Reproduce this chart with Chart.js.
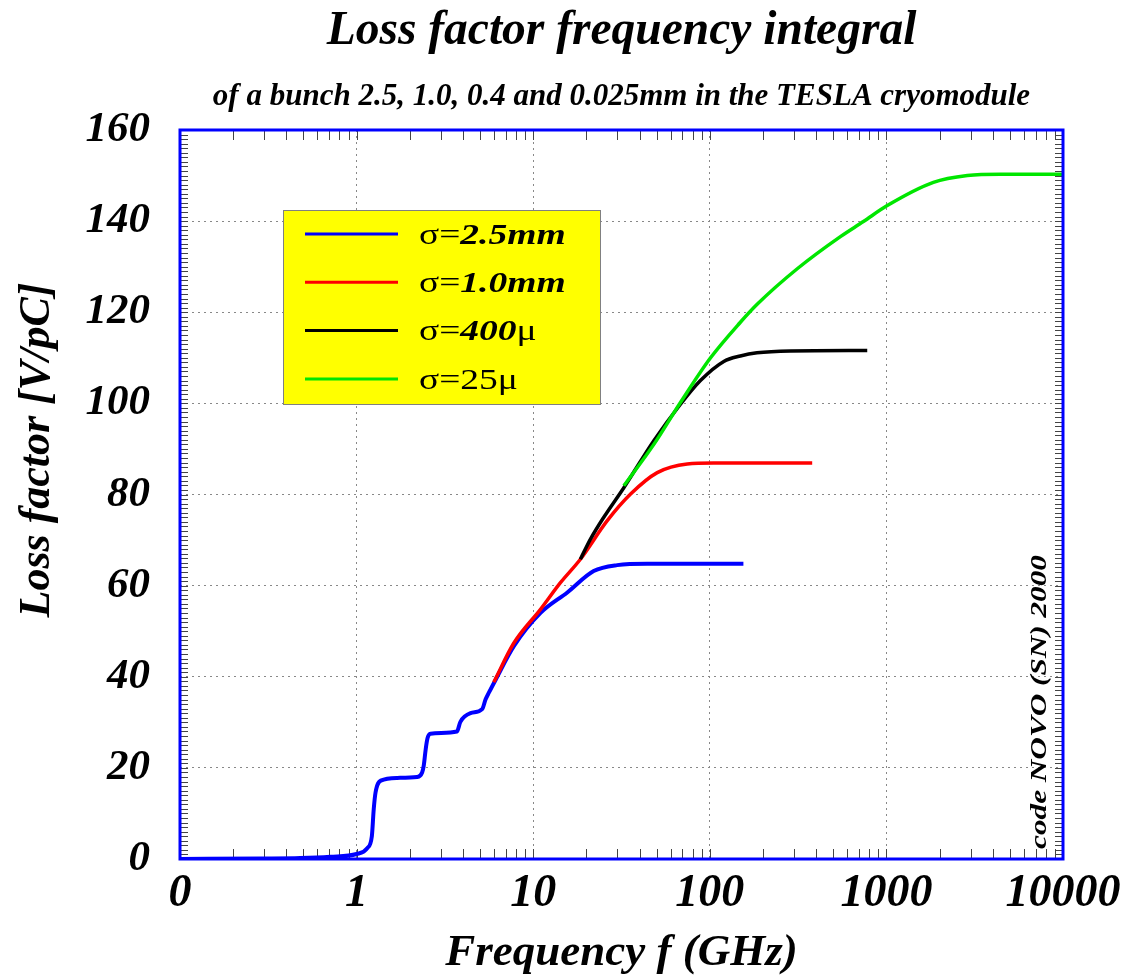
<!DOCTYPE html>
<html>
<head>
<meta charset="utf-8">
<title>Loss factor frequency integral</title>
<script src="https://cdn.jsdelivr.net/npm/chart.js@4/dist/chart.umd.min.js"></script>
<style>
  html, body { margin: 0; padding: 0; background: #fff; }
  #wrap { width: 1122px; height: 979px; }
</style>
</head>
<body>
<div id="wrap"><canvas id="lossChart"></canvas></div>
<script>
// Frequency (GHz) and integrated loss factor (V/pC) for each bunch length
const freq25mm = [0.1, 0.29, 0.48, 0.71, 1.0, 1.15, 1.22, 1.25, 1.28, 1.37, 1.7, 2.2, 2.35, 2.4, 2.46, 2.52, 2.62,
                  3.7, 3.87, 4.42, 5.14, 5.37, 5.61, 6.12, 7.77, 11.0, 15.6, 22.0, 29.9, 44.2, 155];
const loss25mm = [0, 0.1, 0.2, 0.5, 1.1, 2.4, 5.0, 10.9, 14.6, 17.2, 17.8, 18.0, 19.0, 20.5, 24.0, 26.5, 27.5,
                  28.0, 30.1, 32.0, 32.9, 35.0, 36.5, 39.3, 46.7, 54.0, 58.5, 63.2, 64.5, 64.8, 64.8];

const freq10mm = [5.98, 7.77, 11.0, 14.3, 18.5, 26.2, 35.6, 50.4, 74.5, 105, 380];
const loss10mm = [38.8, 47.4, 54.8, 60.7, 65.8, 74.2, 80.1, 84.8, 86.7, 86.9, 86.9];

const freq400u = [18.5, 21.1, 25.1, 32.6, 48.2, 68.2, 88.5, 120, 149, 185, 286, 779];
const loss400u = [65.8, 70.2, 75.0, 81.5, 91.8, 99.8, 105.0, 109.2, 110.4, 111.1, 111.5, 111.6];

const freq25u = [32.6, 48.2, 68.2, 101, 149, 186, 314, 549, 741, 1000, 1845, 2874, 4418, 10000];
const loss25u = [81.9, 91.0, 100.2, 110.0, 117.8, 121.8, 129.6, 136.6, 139.9, 143.3, 148.5, 150.0, 150.3, 150.3];

// axis ticks
const freqTicks = [0.1, 1, 10, 100, 1000, 10000];
const lossMin = 0, lossMax = 160, lossStep = 20;

// legend labels, split into plain / bold-italic pieces
const legendParts = [
  [['σ=', 'n'], ['2.5mm', 'bi']],
  [['σ=', 'n'], ['1.0mm', 'bi']],
  [['σ=', 'n'], ['400', 'bi'], ['μ', 'n']],
  [['σ=25μ', 'n']]
];

const serif = 'Liberation Serif';
const bi = (size) => 'italic bold ' + size + 'px "' + serif + '"';
const toPoints = (xs, ys) => xs.map((x, i) => ({ x: x, y: ys[i] }));

// inward minor ticks on all four sides plus the blue frame
const frameTicks = {
  id: 'frameTicks',
  beforeDatasetsDraw(chart) {
    const { ctx, chartArea: a, scales: { x, y } } = chart;
    ctx.save();
    ctx.strokeStyle = '#444';
    ctx.lineWidth = 1;
    ctx.beginPath();
    for (let e = -1; e < 4; e++) {
      for (let d = 1; d < 10; d++) {
        const px = Math.round(x.getPixelForValue(d * Math.pow(10, e))) + 0.5;
        ctx.moveTo(px, a.top); ctx.lineTo(px, a.top + 10);
        ctx.moveTo(px, a.bottom); ctx.lineTo(px, a.bottom - 10);
      }
    }
    for (let v = lossMin + 1; v < lossMax; v++) {
      const py = Math.round(y.getPixelForValue(v)) + 0.5;
      ctx.moveTo(a.left, py); ctx.lineTo(a.left + 8, py);
      ctx.moveTo(a.right, py); ctx.lineTo(a.right - 8, py);
    }
    ctx.stroke();
    ctx.restore();
  },
  afterDatasetsDraw(chart) {
    const { ctx, chartArea: a } = chart;
    ctx.save();
    ctx.strokeStyle = '#0000ff';
    ctx.lineWidth = 3;
    ctx.strokeRect(a.left, a.top, a.right - a.left, a.bottom - a.top);
    ctx.restore();
  }
};

// yellow legend box
const legendBox = {
  id: 'legendBox',
  afterDatasetsDraw(chart) {
    const { ctx, chartArea: a } = chart;
    const bx = a.left + 103, by = a.top + 80;
    ctx.save();
    ctx.fillStyle = '#ffff00';
    ctx.fillRect(bx, by, 317, 194);
    ctx.strokeStyle = '#808080';
    ctx.lineWidth = 1;
    ctx.strokeRect(bx + 0.5, by + 0.5, 317, 194);
    chart.data.datasets.forEach((ds, i) => {
      const ly = by + 24 + i * 48.3;
      ctx.strokeStyle = ds.borderColor;
      ctx.lineWidth = 3;
      ctx.beginPath();
      ctx.moveTo(bx + 22, ly);
      ctx.lineTo(bx + 115, ly);
      ctx.stroke();
      ctx.save();
      ctx.translate(bx + 136, ly + 2);
      ctx.scale(1.25, 1);
      ctx.fillStyle = '#000';
      ctx.textBaseline = 'middle';
      let tx = 0;
      legendParts[i].forEach(([text, style]) => {
        ctx.font = style === 'bi' ? bi(30) : '30px "' + serif + '"';
        ctx.fillText(text, tx, 0);
        tx += ctx.measureText(text).width;
      });
      ctx.restore();
    });
    ctx.restore();
  }
};

// headings, y-axis caption and the vertical code credit
const captions = {
  id: 'captions',
  afterDraw(chart) {
    const { ctx, chartArea: a } = chart;
    const cx = (a.left + a.right) / 2;
    ctx.save();
    ctx.fillStyle = '#000';
    ctx.textAlign = 'center';
    ctx.textBaseline = 'middle';
    ctx.font = bi(47.5);
    ctx.fillText('Loss factor frequency integral', cx, 32);
    ctx.font = bi(31);
    ctx.fillText('of a bunch 2.5, 1.0, 0.4 and 0.025mm in the TESLA cryomodule', cx, 97);

    ctx.save();
    ctx.translate(38, 450);
    ctx.rotate(-Math.PI / 2);
    ctx.font = bi(44);
    ctx.fillText('Loss factor [V/pC]', 0, 0);
    ctx.restore();

    ctx.save();
    ctx.translate(a.right - 23, a.bottom - 157);
    ctx.rotate(-Math.PI / 2);
    ctx.scale(1.3, 1);
    ctx.font = bi(24);
    ctx.fillText('code NOVO (SN) 2000', 0, 0);
    ctx.restore();
    ctx.restore();
  }
};

const lossCtx = document.getElementById('lossChart').getContext('2d');
const lossChart = new Chart(lossCtx, {
  type: 'line',
  data: {
    datasets: [
      { label: 'σ=2.5mm', data: toPoints(freq25mm, loss25mm), borderColor: '#0000ff', borderWidth: 4, order: 4 },
      { label: 'σ=1.0mm', data: toPoints(freq10mm, loss10mm), borderColor: '#ff0000', borderWidth: 3.5, order: 3 },
      { label: 'σ=400μ', data: toPoints(freq400u, loss400u), borderColor: '#000000', borderWidth: 3.5, order: 2 },
      { label: 'σ=25μ', data: toPoints(freq25u, loss25u), borderColor: '#00e600', borderWidth: 3.5, order: 1 }
    ]
  },
  options: {
    responsive: true,
    maintainAspectRatio: false,
    animation: false,
    devicePixelRatio: 1,
    layout: { padding: { left: 0, right: 59, top: 130, bottom: 0 } },
    elements: {
      point: { radius: 0 },
      line: { cubicInterpolationMode: 'monotone', fill: false }
    },
    scales: {
      x: {
        type: 'logarithmic',
        min: 0.1,
        max: 10000,
        afterBuildTicks: (scale) => { scale.ticks = freqTicks.map(v => ({ value: v })); },
        afterFit: (scale) => {
          scale.height = 120;
          scale.paddingLeft = 0;
          scale.paddingRight = 0;
        },
        grid: { color: '#888', drawTicks: false },
        border: { display: false, dash: [2, 4] },
        ticks: {
          autoSkip: false,
          maxRotation: 0,
          padding: 12,
          color: '#000',
          font: { family: serif, size: 46, style: 'italic', weight: 'bold', lineHeight: 1 },
          callback: (v) => (v === 0.1 ? '0' : String(v))
        },
        title: {
          display: true,
          text: 'Frequency f (GHz)',
          color: '#000',
          padding: { top: 0, bottom: 3 },
          font: { family: serif, size: 45, style: 'italic', weight: 'bold', lineHeight: 1 }
        }
      },
      y: {
        min: lossMin,
        max: lossMax,
        afterFit: (scale) => { scale.width = 180; },
        grid: { color: '#888', drawTicks: false },
        border: { display: false, dash: [2, 4] },
        ticks: {
          stepSize: lossStep,
          padding: 30,
          color: '#000',
          font: { family: serif, size: 43, style: 'italic', weight: 'bold', lineHeight: 1 }
        }
      }
    },
    plugins: {
      legend: { display: false },
      tooltip: { enabled: false }
    }
  },
  plugins: [frameTicks, legendBox, captions]
});
</script>
</body>
</html>
